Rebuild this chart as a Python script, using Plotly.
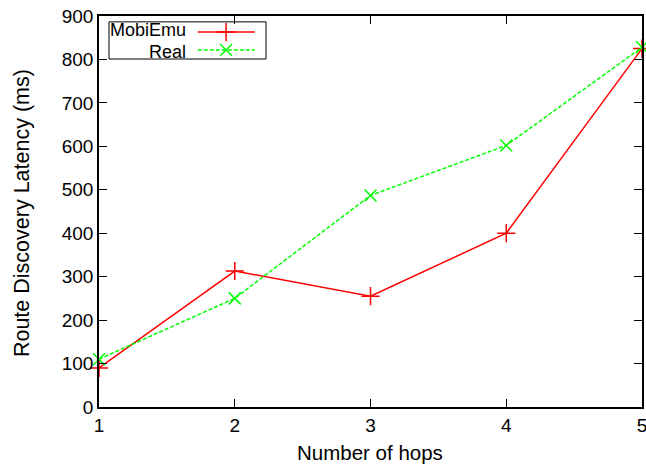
import plotly.graph_objects as go

hops = [1, 2, 3, 4, 5]
mobiemu = [90, 313, 255, 400, 825]
real = [110, 250, 487, 602, 828]
series_names = ["MobiEmu", "Real"]
x_title = "Number of hops"
y_title = "Route Discovery Latency (ms)"

FONT = "Liberation Sans, Arial, Helvetica, sans-serif"
RED = "#ff0000"
GREEN = "#00ff00"
DASH = "4px,2px"

fig = go.Figure()
fig.add_trace(go.Scatter(
    x=hops, y=mobiemu, mode="lines+markers", name=series_names[0],
    line=dict(color=RED, width=1.5),
    marker=dict(symbol="cross-thin-open", size=13, color=RED, line=dict(color=RED, width=1.5)),
    showlegend=False, cliponaxis=False))
fig.add_trace(go.Scatter(
    x=hops, y=real, mode="lines+markers", name=series_names[1],
    line=dict(color=GREEN, width=1.5, dash=DASH),
    marker=dict(symbol="x-thin-open", size=12, color=GREEN, line=dict(color=GREEN, width=1.5)),
    showlegend=False, cliponaxis=False))

# custom legend (gnuplot style: right-aligned text, sample to the right)
leg_rows = [0.959, 0.913]
leg_styles = [(RED, "solid", "cross-thin-open", 13), (GREEN, DASH, "x-thin-open", 12)]
leg_anchor = ["bottom", "top"]
for name, yy, anc, (col, dash, sym, sz) in zip(series_names, leg_rows, leg_anchor, leg_styles):
    fig.add_annotation(xref="paper", yref="paper", x=0.162, y=0.936, text=name,
                       showarrow=False, xanchor="right", yanchor=anc, borderpad=0,
                       font=dict(family=FONT, size=18, color="black"))
    fig.add_shape(type="line", xref="paper", yref="paper", x0=0.182, x1=0.287,
                  y0=yy, y1=yy, line=dict(color=col, width=1.5, dash=dash))
    fig.add_trace(go.Scatter(x=[0.234], y=[yy], xaxis="x2", yaxis="y2", mode="markers",
                             marker=dict(symbol=sym, size=sz, color=col, line=dict(color=col, width=1.5)),
                             showlegend=False, hoverinfo="skip", cliponaxis=False))
fig.add_shape(type="rect", xref="paper", yref="paper", x0=0.0184, x1=0.3076,
              y0=0.890, y1=0.985, line=dict(color="black", width=1))

# axis titles
fig.add_annotation(xref="paper", yref="paper", x=0.499, y=-0.1176, text=x_title,
                   showarrow=False, xanchor="center", yanchor="middle",
                   font=dict(family=FONT, size=20.5, color="black"))
fig.add_annotation(xref="paper", yref="paper", x=-0.1418, y=0.496, text=y_title,
                   showarrow=False, xanchor="center", yanchor="middle", textangle=-90,
                   font=dict(family=FONT, size=21.5, color="black"))

axis_common = dict(
    showgrid=False, zeroline=False, showline=True, linecolor="black", linewidth=1.5,
    mirror="ticks", ticks="inside", ticklen=8, tickcolor="black", tickwidth=1,
    tickfont=dict(family=FONT, size=19, color="black"), automargin=False,
    ticklabeloverflow="allow",
)
fig.update_layout(
    width=646, height=467,
    margin=dict(l=99, r=4, t=16, b=60),
    paper_bgcolor="white", plot_bgcolor="white",
    font=dict(family=FONT, size=19, color="black"),
    xaxis=dict(range=[1, 5], tickvals=hops, **axis_common),
    yaxis=dict(range=[0, 900], dtick=100, **axis_common),
    xaxis2=dict(range=[0, 1], overlaying="x", visible=False),
    yaxis2=dict(range=[0, 1], overlaying="y", visible=False),
    showlegend=False,
)

fig.write_html(
    "out.html",
    config={"responsive": False, "displayModeBar": False},
    post_script="document.body.style.margin='0px';document.body.style.overflow='hidden';",
)
